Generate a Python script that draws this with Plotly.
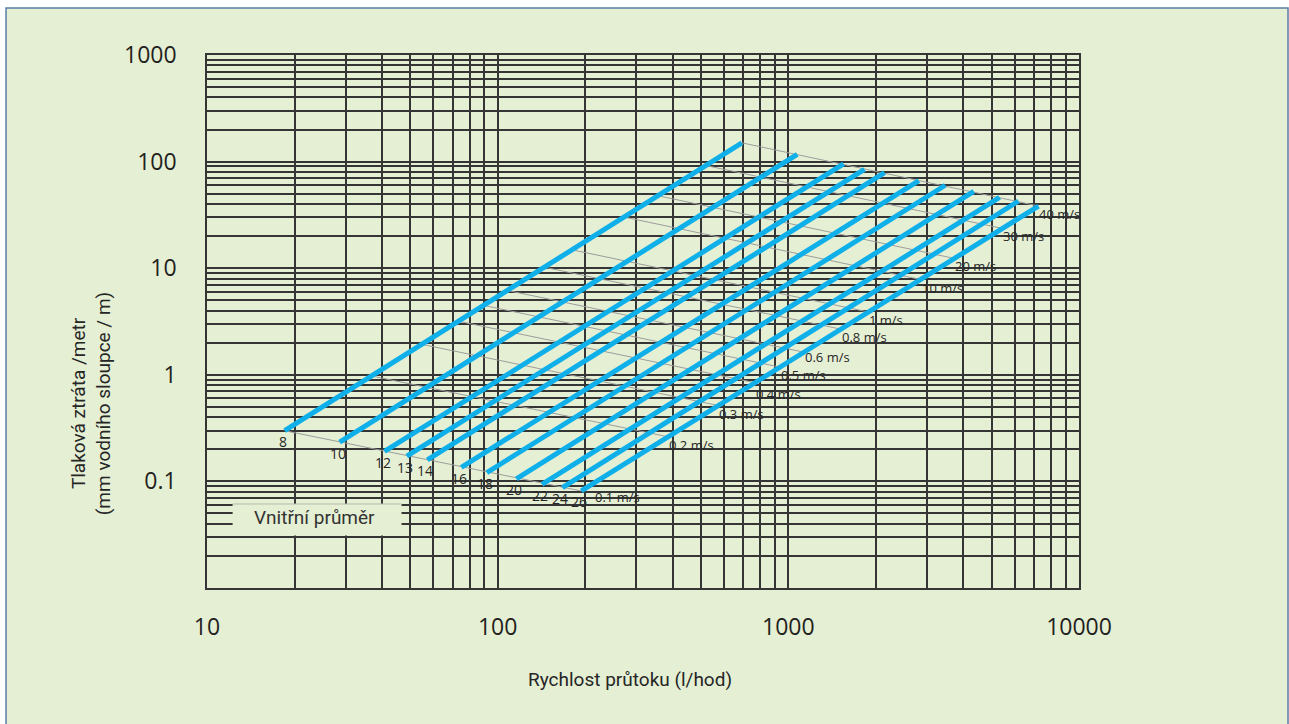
import math
import plotly.graph_objects as go

# ---- data ----
diameters = ["8", "10", "12", "13", "14", "16", "18", "20", "22", "24", "26"]
flow_low = [18.5, 28.6, 40.8, 48.7, 57.3, 75, 91.8, 116, 142, 167, 194]
loss_low = [0.299, 0.234, 0.191, 0.173, 0.159, 0.1356, 0.1208, 0.1054, 0.0939, 0.0873, 0.0813]
flow_high = [692, 1073, 1549, 1828, 2143, 2812, 3467, 4346, 5331, 6194, 7255]
loss_high = [150, 117, 95, 84.7, 78.7, 66.2, 60, 52.6, 46.2, 42.7, 38.3]

velocity_labels = ["0.1 m/s", "0.2 m/s", "0.3 m/s", "0.4 m/s", "0.5 m/s", "0.6 m/s",
                   "0.8 m/s", "1 m/s", "10 m/s", "20 m/s", "30 m/s", "40 m/s"]
vel_flow_8 = [18.5, 36.8, 54.8, 73.2, 89.4, 108, 145, 180, 272, 355, 520, 692]
vel_loss_8 = [0.299, 0.975, 1.93, 3.18, 4.48, 6.18, 10.2, 14.9, 30.2, 47.9, 91.9, 150]
vel_flow_26 = [194, 386, 575, 768, 937, 1132, 1518, 1886, 2850, 3726, 5450, 7255]
vel_loss_26 = [0.0813, 0.262, 0.515, 0.843, 1.18, 1.63, 2.68, 3.88, 7.83, 12.35, 23.6, 38.3]

x_tick_values = [10, 100, 1000, 10000]
x_tick_labels = ["10", "100", "1000", "10000"]
y_tick_values = [0.1, 1, 10, 100, 1000]
y_tick_labels = ["0.1", "1", "10", "100", "1000"]

x_title = "Rychlost průtoku (l/hod)"
y_title = "Tlaková ztráta /metr<br>(mm vodního sloupce / m)"
legend_title = "Vnitřní průměr"

# ---- styles ----
BG = "#e5efd4"
GRID = "#353535"
BLUE = "#0fb0ea"
GREYLINE = "#9c9c9c"
TXT = "#262626"
NARROW = "Roboto, sans-serif"
SANS = "Open Sans, Noto Sans, sans-serif"
L = math.log10

# label offsets (pixels) for the velocity captions
vel_label_shift = {0: (13, -6), 3: (0, -11), 4: (0, -8), 5: (0, -5)}


def log_grid(lo_exp, hi_exp):
    vals = []
    for e in range(lo_exp, hi_exp):
        for m in range(1, 10):
            vals.append(round(m * 10 ** e, 6))
    vals.append(round(10 ** hi_exp, 6))
    return vals


x_grid = log_grid(1, 4)
y_grid = log_grid(-2, 3)
x_lab = dict(zip(x_tick_values, x_tick_labels))
y_lab = dict(zip(y_tick_values, y_tick_labels))
x_text = [x_lab.get(v, "") for v in x_grid]
y_text = [y_lab.get(v, "") for v in y_grid]

fig = go.Figure()

# velocity (grey) lines
for i, lab in enumerate(velocity_labels):
    fig.add_trace(go.Scatter(
        x=[vel_flow_8[i], vel_flow_26[i]], y=[vel_loss_8[i], vel_loss_26[i]],
        mode="lines", line=dict(color=GREYLINE, width=1), hoverinfo="skip", showlegend=False))

# diameter (blue) lines
for i, d in enumerate(diameters):
    fig.add_trace(go.Scatter(
        x=[flow_low[i], flow_high[i]], y=[loss_low[i], loss_high[i]],
        mode="lines", line=dict(color=BLUE, width=5), name=d, showlegend=False))

annotations = []
# diameter labels at the lower ends (annotation coords on log axes are log10)
for i, d in enumerate(diameters):
    annotations.append(dict(
        x=L(flow_low[i]), y=L(loss_low[i]), xref="x", yref="y", text=d, showarrow=False,
        xanchor="center", yanchor="middle", xshift=-2, yshift=-11,
        font=dict(family=SANS, size=14, color=TXT)))
# velocity labels
for i, lab in enumerate(velocity_labels):
    xs, ys = vel_label_shift.get(i, (0, -8))
    annotations.append(dict(
        x=L(vel_flow_26[i]), y=L(vel_loss_26[i]), xref="x", yref="y", text=lab, showarrow=False,
        xanchor="left", yanchor="middle", xshift=xs, yshift=ys, borderpad=0,
        font=dict(family=SANS, size=13, color=TXT)))

# axis titles
annotations.append(dict(
    x=0.4847, y=-0.1726, xref="paper", yref="paper", text=x_title, showarrow=False,
    xanchor="center", yanchor="middle", font=dict(family=NARROW, size=19, color=TXT)))
annotations.append(dict(
    x=-0.133, y=0.345, xref="paper", yref="paper", text=y_title, showarrow=False,
    textangle=-90, xanchor="center", yanchor="middle",
    font=dict(family=NARROW, size=19, color=TXT)))
# legend caption
annotations.append(dict(
    x=L(23.4), y=L(0.0463), xref="x", yref="y", text=legend_title, showarrow=False,
    xanchor="center", yanchor="middle", font=dict(family=NARROW, size=19, color="#333333")))

shapes = [
    # outer frame
    dict(type="rect", xref="paper", yref="paper", x0=-0.2305, x1=1.2397, y0=-0.27, y1=1.0882,
         line=dict(color="#5b7ca6", width=1.5), fillcolor=BG, layer="below"),
    # caption box
    dict(type="rect", xref="x", yref="y", x0=12.25, x1=46.7, y0=0.0311, y1=0.0614,
         line=dict(width=0), fillcolor=BG, layer="above"),
    dict(type="line", xref="x", yref="y", x0=12.25, x1=46.7, y0=0.0614, y1=0.0614,
         line=dict(color="#b5bcae", width=1), layer="above"),
]

fig.update_layout(
    width=1289, height=724,
    margin=dict(l=207, r=210, t=55, b=136),
    paper_bgcolor="white", plot_bgcolor="rgba(0,0,0,0)",
    showlegend=False,
    annotations=annotations,
    shapes=shapes,
    xaxis=dict(type="log", range=[1, 4], tickmode="array", tickvals=x_grid, ticktext=x_text,
               showgrid=True, gridcolor=GRID, gridwidth=1.5, zeroline=False,
               showline=True, mirror=True, linecolor=GRID, linewidth=1.5, ticks="",
               ticklabelstandoff=18, tickfont=dict(family=SANS, size=23, color="#231f20")),
    yaxis=dict(type="log", range=[-2, 3], tickmode="array", tickvals=y_grid, ticktext=y_text,
               showgrid=True, gridcolor=GRID, gridwidth=1.5, zeroline=False,
               showline=True, mirror=True, linecolor=GRID, linewidth=1.5, ticks="",
               ticklabelstandoff=24, tickfont=dict(family=SANS, size=23, color="#231f20")),
)

fig.write_html("out.html", config={"displayModeBar": False},
               post_script="document.body.style.margin='0';")
